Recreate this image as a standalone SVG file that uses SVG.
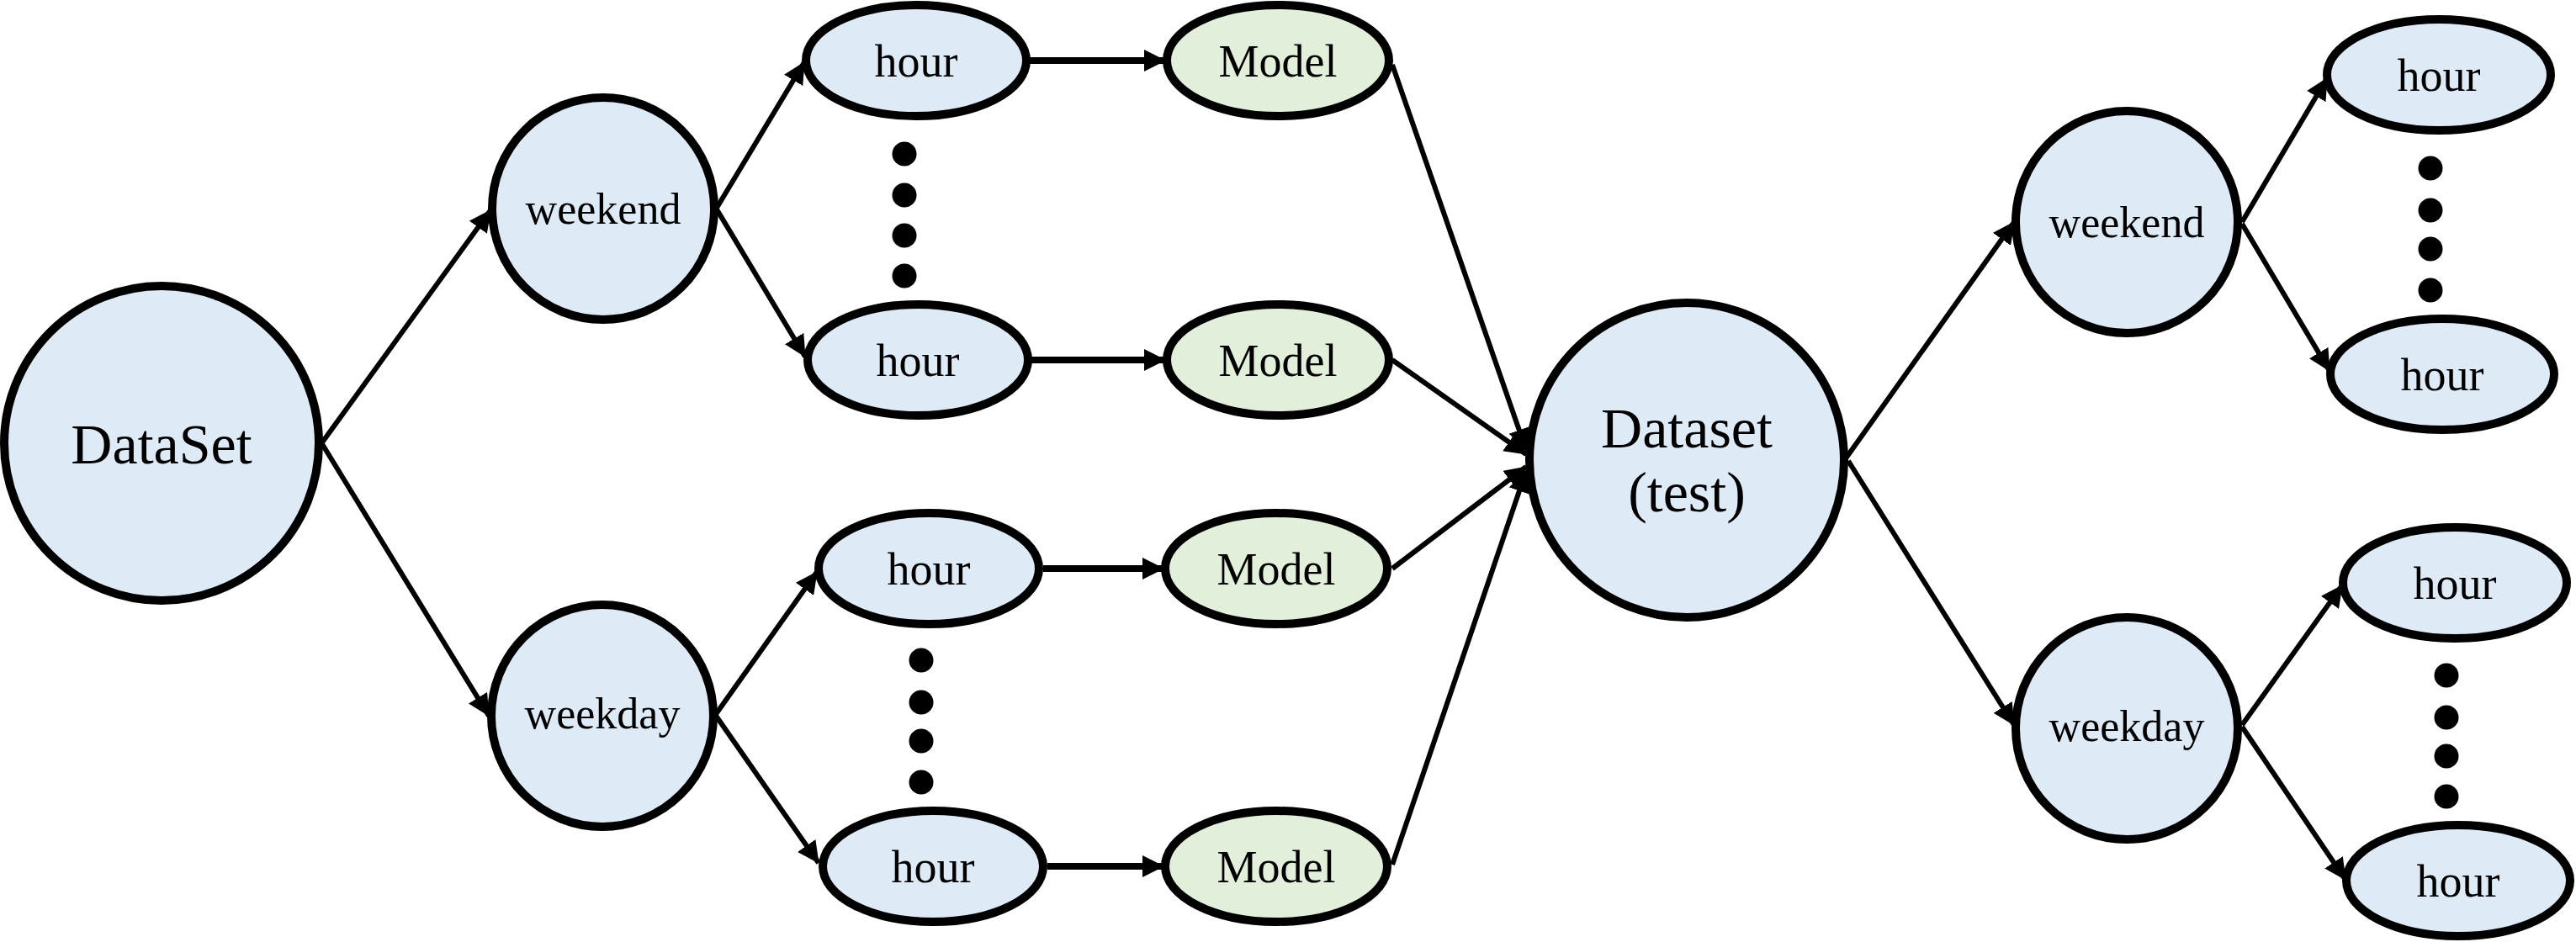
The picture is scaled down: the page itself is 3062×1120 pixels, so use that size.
<svg xmlns="http://www.w3.org/2000/svg" width="3062" height="1120" viewBox="0 0 3062 1120">
<defs>
<marker id="arr" markerUnits="userSpaceOnUse" markerWidth="26" markerHeight="26" viewBox="0 0 26 26" refX="25" refY="13" orient="auto">
<path d="M0,0 L26,13 L0,26 Z" fill="#000"/>
</marker>
<style>
.b{fill:#DEEAF6;stroke:#000;stroke-width:10}
.g{fill:#E2EFDA;stroke:#000;stroke-width:10}
.t{font-family:"Liberation Serif","Times New Roman",serif;fill:#000;text-anchor:middle}
.s{font-size:52px}
.m{font-size:54px}
.l{font-size:68px}
.d{fill:#000}
.c line{stroke:#000;stroke-width:6;marker-end:url(#arr)}
.c line.h{stroke-width:8}
</style>
</defs>
<rect width="3062" height="1120" fill="#fff"/>
<g id="connectors" class="c">
<line x1="383" y1="526" x2="583" y2="250"/>
<line x1="383" y1="528" x2="581" y2="851"/>
<line x1="852" y1="247" x2="956" y2="74"/>
<line x1="852" y1="249" x2="957" y2="424"/>
<line x1="851" y1="849" x2="971" y2="680"/>
<line x1="851" y1="851" x2="973" y2="1026"/>
<line class="h" x1="1224" y1="72" x2="1385" y2="72"/>
<line class="h" x1="1226" y1="428" x2="1385" y2="428"/>
<line class="h" x1="1240" y1="676" x2="1383" y2="676"/>
<line class="h" x1="1245" y1="1030" x2="1383" y2="1030"/>
<line x1="1655" y1="77" x2="1814" y2="535"/>
<line x1="1655" y1="428" x2="1814" y2="540"/>
<line x1="1655" y1="676" x2="1814" y2="555"/>
<line x1="1655" y1="1028" x2="1814" y2="560"/>
<line x1="2194" y1="545" x2="2394" y2="264"/>
<line x1="2197" y1="548" x2="2394" y2="862"/>
<line x1="2665" y1="264" x2="2766" y2="93"/>
<line x1="2665" y1="266" x2="2769" y2="441"/>
<line x1="2665" y1="862" x2="2784" y2="696"/>
<line x1="2665" y1="864" x2="2788" y2="1046"/>
</g>
<g id="dataset"><ellipse class="b" cx="192" cy="527" rx="187" ry="187"/><text class="t l" x="192" y="551">DataSet</text></g>
<g id="weekend-left"><ellipse class="b" cx="717" cy="248" rx="132" ry="132"/><text class="t s" x="717" y="266">weekend</text></g>
<g id="weekday-left"><ellipse class="b" cx="716" cy="851" rx="132" ry="132"/><text class="t s" x="716" y="866">weekday</text></g>
<g id="hour-t1"><ellipse class="b" cx="1089" cy="72" rx="131" ry="66"/><text class="t m" x="1089" y="91">hour</text></g>
<g id="hour-t2"><ellipse class="b" cx="1091" cy="428" rx="131" ry="66"/><text class="t m" x="1091" y="447">hour</text></g>
<g id="hour-b1"><ellipse class="b" cx="1104" cy="676" rx="131" ry="66"/><text class="t m" x="1104" y="695">hour</text></g>
<g id="hour-b2"><ellipse class="b" cx="1109" cy="1030" rx="131" ry="66"/><text class="t m" x="1109" y="1049">hour</text></g>
<g id="dots-left-top"><circle class="d" cx="1075" cy="183" r="14.5"/><circle class="d" cx="1075" cy="232" r="14.5"/><circle class="d" cx="1075" cy="280" r="14.5"/><circle class="d" cx="1075" cy="328" r="14.5"/></g>
<g id="dots-left-bottom"><circle class="d" cx="1095" cy="785" r="14.5"/><circle class="d" cx="1095" cy="835" r="14.5"/><circle class="d" cx="1095" cy="881" r="14.5"/><circle class="d" cx="1095" cy="930" r="14.5"/></g>
<g id="model1"><ellipse class="g" cx="1519" cy="72" rx="132" ry="66"/><text class="t m" x="1519" y="91">Model</text></g>
<g id="model2"><ellipse class="g" cx="1519" cy="428" rx="132" ry="66"/><text class="t m" x="1519" y="447">Model</text></g>
<g id="model3"><ellipse class="g" cx="1517" cy="676" rx="132" ry="66"/><text class="t m" x="1517" y="695">Model</text></g>
<g id="model4"><ellipse class="g" cx="1517" cy="1030" rx="132" ry="66"/><text class="t m" x="1517" y="1049">Model</text></g>
<g id="dataset-test"><ellipse class="b" cx="2005" cy="547" rx="187" ry="187"/><text class="t l" x="2005" y="532">Dataset</text><text class="t l" x="2005" y="608">(test)</text></g>
<g id="weekend-right"><ellipse class="b" cx="2528" cy="264" rx="132" ry="132"/><text class="t s" x="2528" y="282">weekend</text></g>
<g id="weekday-right"><ellipse class="b" cx="2528" cy="866" rx="132" ry="132"/><text class="t s" x="2528" y="881">weekday</text></g>
<g id="hour-r1"><ellipse class="b" cx="2899" cy="89" rx="133" ry="66"/><text class="t m" x="2899" y="108">hour</text></g>
<g id="hour-r2"><ellipse class="b" cx="2903" cy="445" rx="133" ry="66"/><text class="t m" x="2903" y="464">hour</text></g>
<g id="hour-r3"><ellipse class="b" cx="2918" cy="693" rx="133" ry="66"/><text class="t m" x="2918" y="712">hour</text></g>
<g id="hour-r4"><ellipse class="b" cx="2922" cy="1047" rx="133" ry="66"/><text class="t m" x="2922" y="1066">hour</text></g>
<g id="dots-right-top"><circle class="d" cx="2889" cy="200" r="14.5"/><circle class="d" cx="2889" cy="250" r="14.5"/><circle class="d" cx="2889" cy="296" r="14.5"/><circle class="d" cx="2889" cy="345" r="14.5"/></g>
<g id="dots-right-bottom"><circle class="d" cx="2908" cy="803" r="14.5"/><circle class="d" cx="2908" cy="853" r="14.5"/><circle class="d" cx="2908" cy="899" r="14.5"/><circle class="d" cx="2908" cy="947" r="14.5"/></g>
</svg>
